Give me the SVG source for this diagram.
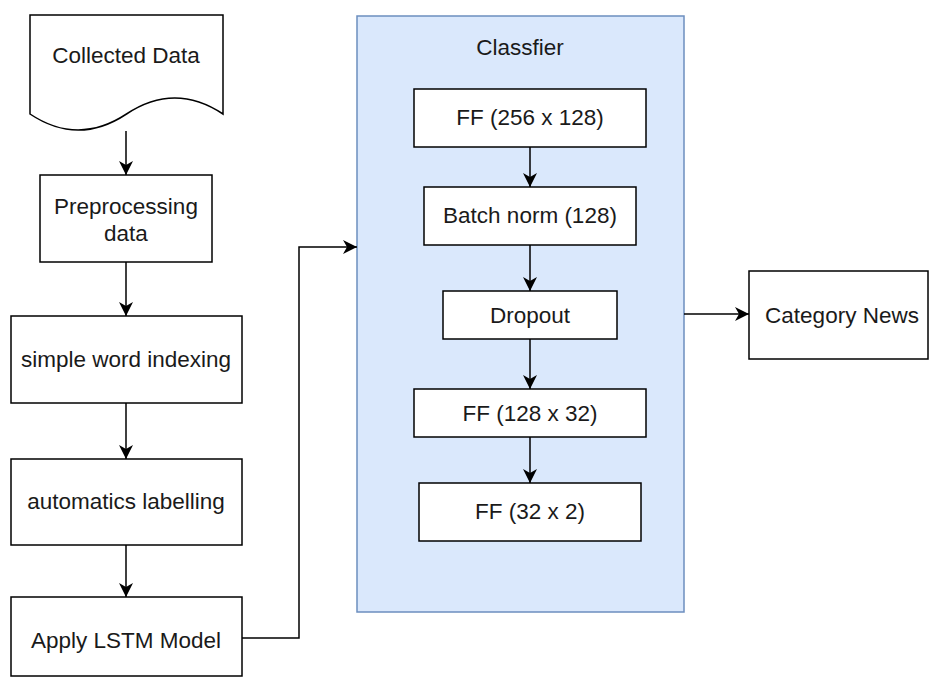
<svg xmlns="http://www.w3.org/2000/svg" width="929" height="677" viewBox="0 0 929 677">
<defs>
<style>
.box{fill:#fff;stroke:#000;stroke-width:1.5}
.t{font-family:"Liberation Sans",Arial,sans-serif;font-size:22.5px;fill:#1a1a1a;text-anchor:middle}
.c{fill:none;stroke:#000;stroke-width:1.5}
</style>
<marker id="ah" viewBox="0 0 14 14" markerWidth="14" markerHeight="14" refX="14" refY="7" orient="auto" markerUnits="userSpaceOnUse">
<path d="M0,0 L14,7 L0,14 L4,7 Z" fill="#000"/>
</marker>
</defs>
<rect width="929" height="677" fill="#fff"/>
<g id="classifier">
<rect x="357" y="16" width="327" height="596" fill="#dae8fc" stroke="#6c8ebf" stroke-width="1.5"/>
<text class="t" x="520" y="55">Classfier</text>
</g>
<g id="collected">
<path class="box" d="M30,15 H223 V114 Q174.75,82 126.5,114 Q78,146 30,114 Z"/>
<text class="t" x="126" y="63">Collected Data</text>
</g>
<g id="preprocessing">
<rect class="box" x="40" y="175" width="172" height="87"/>
<text class="t" x="126" y="214">Preprocessing</text>
<text class="t" x="126" y="241">data</text>
</g>
<g id="indexing">
<rect class="box" x="11" y="316" width="231" height="87"/>
<text class="t" x="126" y="367">simple word indexing</text>
</g>
<g id="labelling">
<rect class="box" x="11" y="459" width="231" height="86"/>
<text class="t" x="126" y="509">automatics labelling</text>
</g>
<g id="lstm">
<rect class="box" x="11" y="597" width="231" height="79"/>
<text class="t" x="126" y="648">Apply LSTM Model</text>
</g>
<g id="ff1">
<rect class="box" x="414" y="89" width="232" height="58"/>
<text class="t" x="530" y="125">FF (256 x 128)</text>
</g>
<g id="bn">
<rect class="box" x="424" y="187" width="212" height="58"/>
<text class="t" x="530" y="223">Batch norm (128)</text>
</g>
<g id="dropout">
<rect class="box" x="443" y="291" width="174" height="48"/>
<text class="t" x="530" y="323">Dropout</text>
</g>
<g id="ff2">
<rect class="box" x="414" y="389" width="232" height="48"/>
<text class="t" x="530" y="421">FF (128 x 32)</text>
</g>
<g id="ff3">
<rect class="box" x="419" y="483" width="222" height="58"/>
<text class="t" x="530" y="519">FF (32 x 2)</text>
</g>
<g id="category">
<rect class="box" x="749" y="271" width="179" height="88"/>
<text class="t" x="842" y="323">Category News</text>
</g>
<g id="connectors">
<path class="c" marker-end="url(#ah)" d="M126,131 V175"/>
<path class="c" marker-end="url(#ah)" d="M126,262 V316"/>
<path class="c" marker-end="url(#ah)" d="M126,403 V459"/>
<path class="c" marker-end="url(#ah)" d="M126,545 V597"/>
<path class="c" marker-end="url(#ah)" d="M242,638 H299 V247 H357"/>
<path class="c" marker-end="url(#ah)" d="M530,147 V187"/>
<path class="c" marker-end="url(#ah)" d="M530,245 V291"/>
<path class="c" marker-end="url(#ah)" d="M530,339 V389"/>
<path class="c" marker-end="url(#ah)" d="M530,437 V483"/>
<path class="c" marker-end="url(#ah)" d="M684,314 H749"/>
</g>
</svg>
